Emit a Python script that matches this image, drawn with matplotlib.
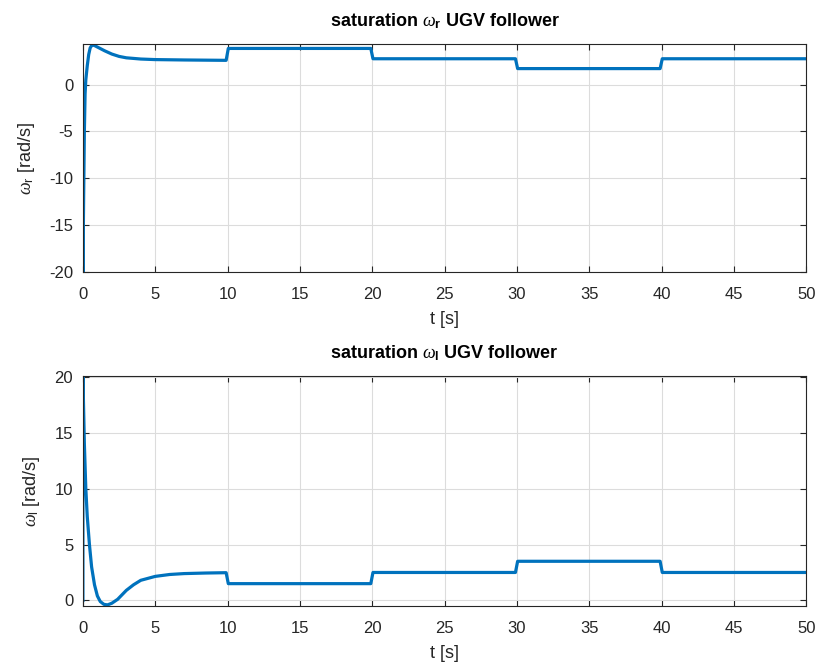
import numpy as np
import matplotlib
matplotlib.use("Agg")
import matplotlib.pyplot as plt

plt.rcParams['font.family'] = ['Liberation Sans', 'DejaVu Sans']
plt.rcParams['axes.unicode_minus'] = False
plt.rcParams['mathtext.fontset'] = 'custom'
plt.rcParams['mathtext.rm'] = 'Liberation Sans'
plt.rcParams['mathtext.it'] = 'Liberation Serif:italic'
plt.rcParams['mathtext.bf'] = 'Liberation Sans:bold'

# right wheel speed (rad/s)
t_r = [0.0, 0.0, 0.05, 0.1, 0.15, 0.2, 0.3, 0.4, 0.5, 0.6, 0.75, 1.0, 1.5, 2.0,
       2.5, 3.0, 4.0, 5.0, 7.0, 9.9, 10.05, 19.9, 20.05, 29.9, 30.05, 39.9, 40.05, 50.0]
w_r = [0.0, -20.0, -12.0, -5.0, -1.0, 0.5, 2.0, 3.2, 3.9, 4.15, 4.2, 4.0, 3.6, 3.25,
       3.0, 2.85, 2.72, 2.66, 2.62, 2.58, 3.85, 3.85, 2.75, 2.75, 1.7, 1.7, 2.75, 2.75]

# left wheel speed (rad/s)
t_l = [0.0, 0.0, 0.05, 0.1, 0.2, 0.3, 0.45, 0.6, 0.8, 1.0, 1.2, 1.45, 1.7, 2.0,
       2.4, 3.0, 3.5, 4.0, 5.0, 6.0, 7.0, 8.5, 9.9, 10.05, 19.9, 20.05, 29.9, 30.05,
       39.9, 40.05, 50.0]
w_l = [0.0, 20.0, 17.0, 14.0, 10.0, 7.5, 5.0, 3.0, 1.4, 0.4, -0.1, -0.35, -0.4, -0.25,
       0.1, 0.9, 1.4, 1.8, 2.15, 2.32, 2.4, 2.45, 2.48, 1.5, 1.5, 2.5, 2.5, 3.5,
       3.5, 2.5, 2.5]

blue = '#0072BD'
fig = plt.figure(figsize=(8.21, 6.70), dpi=100)
ax1 = fig.add_axes([0.101, 0.594, 0.881, 0.340])
ax2 = fig.add_axes([0.101, 0.0955, 0.881, 0.343])

panels = [
    (ax1, t_r, w_r, 'r', (-20, 4.3), np.arange(-20, 1, 5)),
    (ax2, t_l, w_l, 'l', (-0.5, 20.05), np.arange(0, 21, 5)),
]
for ax, t, w, sub, ylim, yticks in panels:
    ax.plot(t, w, color=blue, lw=2.3)
    ax.set_xlim(0, 50)
    ax.set_ylim(*ylim)
    ax.set_xticks(np.arange(0, 51, 5))
    ax.set_yticks(yticks)
    ax.grid(True, color='#dcdcdc', lw=0.8)
    ax.tick_params(direction='in', top=True, right=True, labelsize=12,
                   length=4, width=0.8, colors='#262626')
    ax.tick_params(axis='x', pad=11)
    ax.tick_params(axis='y', pad=7)
    for s in ax.spines.values():
        s.set_linewidth(0.8)
        s.set_color('#262626')
    ax.set_xlabel('t [s]', fontsize=13, color='#262626', labelpad=6)
    ax.set_ylabel(r'$\omega_\mathrm{%s}$ [rad/s]' % sub, fontsize=13,
                  color='#262626', labelpad=9)
    ax.set_title(r'saturation $\omega_\mathbf{%s}$ UGV follower' % sub,
                 fontsize=13, fontweight='bold', pad=13)

fig.savefig('out.png', dpi=100)
